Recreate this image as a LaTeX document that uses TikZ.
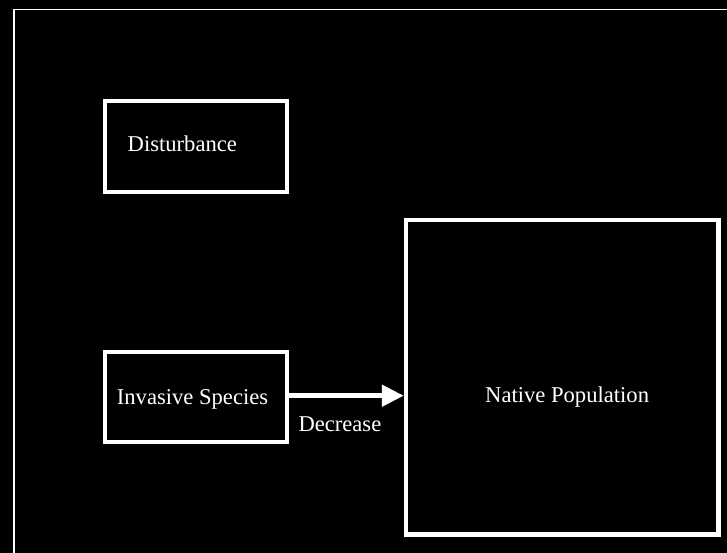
\documentclass[tikz,border=0pt]{standalone}
\usepackage{fontspec}
\setmainfont{Liberation Serif}
\usetikzlibrary{arrows.meta}
\begin{document}
\begin{tikzpicture}[x=1pt,y=-1pt,
  box/.style={draw=white,line width=4.5pt,inner sep=0pt,rectangle},
  lbl/.style={text=white,anchor=base west,inner sep=0pt,font=\fontsize{22.6}{27}\selectfont}]
\useasboundingbox (0,0) rectangle (727,553);
\fill[black] (0,0) rectangle (727,553);
\clip (0,0) rectangle (727,553);
\draw[white,line width=1.8pt] (13.8,560) -- (13.8,9.5) -- (740,9.5);
\node[box,minimum width=182pt,minimum height=91pt] (dist) at (196,146.5) {};
\node[box,minimum width=182pt,minimum height=90pt] (inv) at (196,397) {};
\node[box,minimum width=312.5pt,minimum height=314.5pt] (nat) at (562.25,377.25) {};
\node[lbl] (tdist) at (127.5,152) {Disturbance};
\node[lbl] (tinv) at (116.7,404) {Invasive Species};
\node[lbl] (tnat) at (485,402.3) {Native Population};
\node[lbl] (tdec) at (298.3,431.7) {Decrease};
\draw[white,line width=5pt,-{Triangle[length=22pt,width=21pt]}] ([yshift=1.3pt]inv.east) -- ([yshift=1.3pt]inv.east -| nat.west);
\end{tikzpicture}
\end{document}
